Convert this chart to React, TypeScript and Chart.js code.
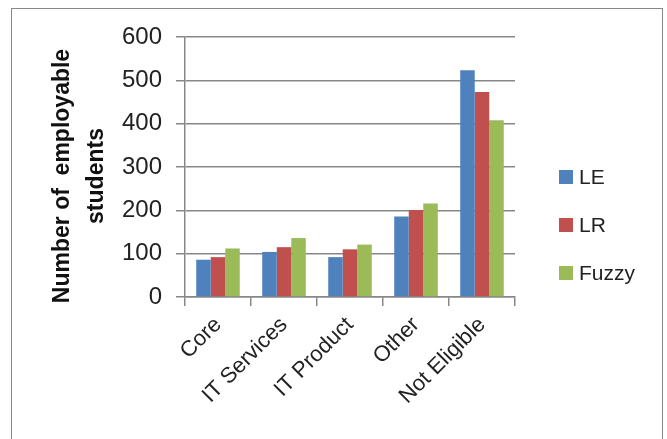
import React, { useEffect, useRef } from "react";
import { Chart, registerables } from "chart.js";

Chart.register(...registerables);

const categories = ["Core", "IT Services", "IT Product", "Other", "Not Eligible"];
const seriesLE = [86, 104, 92, 186, 523];
const seriesLR = [92, 115, 110, 201, 473];
const seriesFuzzy = [112, 136, 121, 216, 408];
const seriesNames = ["LE", "LR", "Fuzzy"];
const seriesColors = ["#4F81BD", "#C0504D", "#9BBB59"];
const yTitle = ["Number of  employable", "students"];

const FONT = "'Liberation Sans', Arial, sans-serif";

const sidePlugin = {
  id: "sideTexts",
  afterDraw(chart: any) {
    const ctx = chart.ctx;
    ctx.save();
    ctx.font = `21px ${FONT}`;
    ctx.textBaseline = "middle";
    ctx.textAlign = "left";
    chart.data.datasets.forEach((ds: any, i: number) => {
      const cy = 177 + i * 48;
      ctx.fillStyle = ds.backgroundColor;
      ctx.fillRect(559, cy - 7, 14, 14);
      ctx.fillStyle = "#222";
      ctx.fillText(ds.label, 579, cy + 1);
    });
    ctx.restore();

    ctx.save();
    ctx.translate(0, 176);
    ctx.rotate(-Math.PI / 2);
    ctx.font = `bold 23px ${FONT}`;
    ctx.fillStyle = "#111";
    ctx.textAlign = "center";
    ctx.textBaseline = "middle";
    const xs = [63, 97];
    yTitle.forEach((line, i) => {
      ctx.fillText(line, 0, xs[i]);
    });
    ctx.restore();
  },
};

export default function App() {
  const ref = useRef<HTMLCanvasElement | null>(null);
  useEffect(() => {
    if (!ref.current) return;
    const values = [seriesLE, seriesLR, seriesFuzzy];
    const chart = new Chart(ref.current, {
      type: "bar",
      data: {
        labels: categories,
        datasets: seriesNames.map((name, i) => ({
          label: name,
          data: values[i],
          backgroundColor: seriesColors[i],
          borderWidth: 0,
          barPercentage: 1,
          categoryPercentage: 0.66,
        })),
      },
      options: {
        responsive: false,
        animation: false,
        layout: { padding: { left: 44, top: 37, right: 152, bottom: 10 } },
        plugins: {
          legend: { display: false },
          tooltip: { enabled: false },
        },
        scales: {
          x: {
            afterFit: (s: any) => {
              s.height = 439 - 297 - 10;
            },
            grid: {
              offset: true,
              drawOnChartArea: false,
              drawTicks: true,
              tickLength: 9,
              color: "#878787",
              lineWidth: 1.5,
            },
            border: { color: "#878787", width: 1.5 },
            ticks: {
              maxRotation: 45,
              minRotation: 45,
              color: "#222",
              font: { family: FONT, size: 22 },
              padding: 6,
            },
          },
          y: {
            min: 0,
            max: 600,
            afterFit: (s: any) => {
              s.width = 185 - 44;
            },
            ticks: {
              stepSize: 100,
              color: "#222",
              font: { family: FONT, size: 24 },
              padding: 14,
            },
            grid: {
              color: "#878787",
              lineWidth: 1.5,
              tickLength: 9,
            },
            border: { color: "#878787", width: 1.5 },
          },
        },
      },
      plugins: [sidePlugin],
    });
    return () => chart.destroy();
  }, []);

  return (
    <div style={{ position: "fixed", left: 0, top: 0, width: 667, height: 439, background: "#fff", overflow: "hidden" }}>
      <div
        style={{
          position: "absolute",
          left: 11,
          top: 8,
          width: 652,
          height: 460,
          border: "1.5px solid #888",
          boxSizing: "border-box",
        }}
      />
      <canvas ref={ref} width={667} height={439} style={{ position: "absolute", left: 0, top: 0 }} />
    </div>
  );
}
